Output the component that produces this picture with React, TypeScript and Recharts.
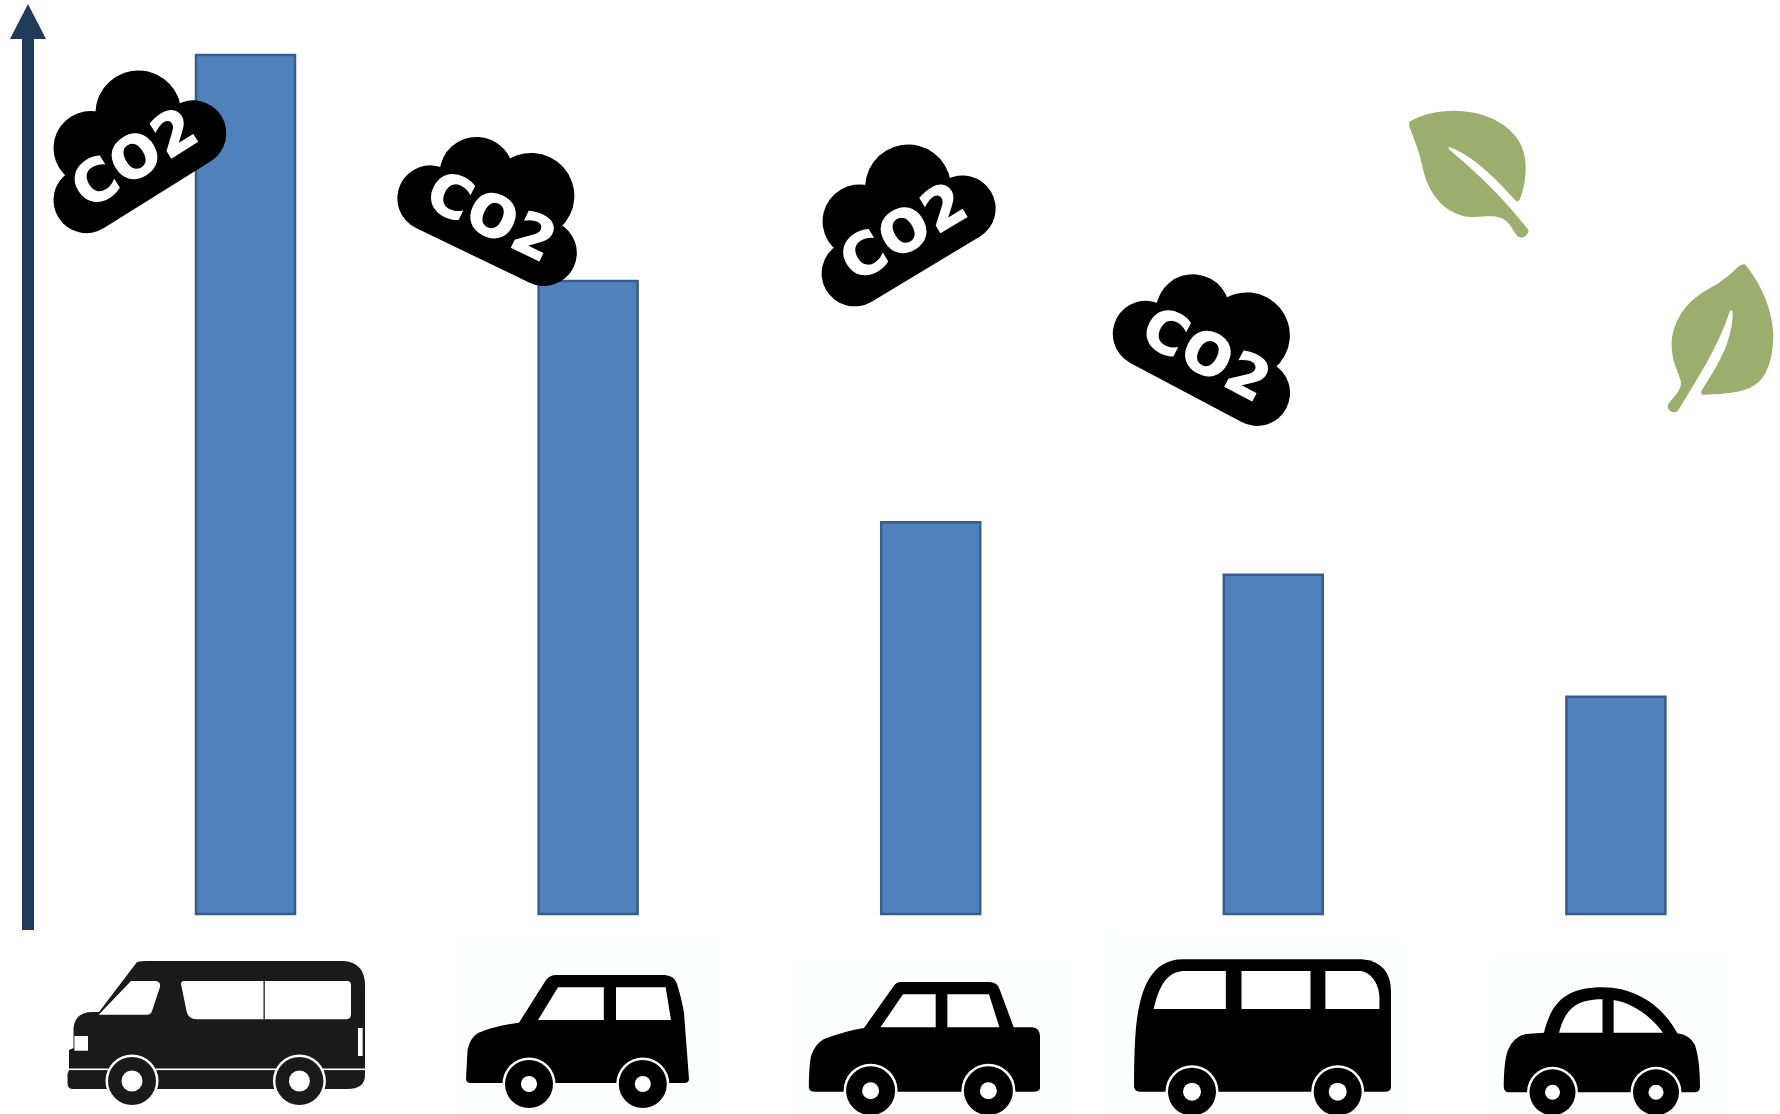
import React from "react";
import { BarChart, Bar, XAxis, YAxis } from "recharts";

const vehicles = ["van", "wagon", "sedan", "minibus", "compact"];
const co2Levels = [100, 73.7, 45.6, 39.5, 25.3];

const data = vehicles.map((vehicle, i) => ({ vehicle, co2: co2Levels[i] }));

const NAVY = "#203a5c";
const LEAF = "#9bae6e";

const Cloud = ({ x, y, angle }: { x: number; y: number; angle: number }) => (
  <g transform={`translate(${x} ${y}) rotate(${angle})`}>
    <circle cx={-31} cy={-24} r={37} fill="#000" />
    <circle cx={28} cy={-28} r={43} fill="#000" />
    <rect x={-95} y={-15} width={192} height={66} rx={33} fill="#000" />
    <text
      x={2}
      y={27}
      textAnchor="middle"
      fill="#fff"
      stroke="#fff"
      strokeWidth={1.5}
      fontFamily="'DejaVu Sans', sans-serif"
      fontWeight="bold"
      fontSize={57}
      letterSpacing={2}
    >
      CO2
    </text>
  </g>
);

const Wheel = ({ x, y, r, hub, fill = "#000" }: any) => (
  <g>
    <circle cx={x} cy={y} r={r + 2.5} fill="#fff" />
    <circle cx={x} cy={y} r={r} fill={fill} />
    <circle cx={x} cy={y} r={hub} fill="#fff" />
  </g>
);

const Van = () => (
  <g>
    <path
      d="M137 962 Q141 961 147 961 L344 961 Q365 963 365 985 L365 1075 Q365 1089 347 1089 L73 1089 Q67.5 1089 67.5 1083 L67.5 1074 L69 1070 L69 1050 L73.5 1048 L73.5 1028 Q75 1013 91 1012 L99 1012 Z"
      fill="#1a1a1a"
    />
    <rect x={67} y={1068.5} width={298} height={1.6} fill="#fff" />
    <path
      d="M98.7 1014.7 L131 981 L156 981 Q161 982 160 987 L152 1011 Q151 1014.7 147 1014.7 Z"
      fill="#fff"
    />
    <path
      d="M181 984 Q181 981 184 981 L347 981 Q351 981 351 985 L351 1014 Q351 1019.3 346 1019.3 L197 1019.3 Q188 1019 186.5 1011 Z"
      fill="#fff"
    />
    <rect x={263.5} y={981} width={1.3} height={38.5} fill="#1a1a1a" />
    <rect x={74.4} y={1036} width={13.6} height={14.7} fill="#fff" />
    <rect x={358} y={1028} width={4.7} height={28} fill="#fff" />
    <Wheel x={132} y={1081} r={24} hub={10.5} fill="#1a1a1a" />
    <Wheel x={299.4} y={1081} r={24} hub={10.5} fill="#1a1a1a" />
  </g>
);

const Wagon = () => (
  <g>
    <rect x={455} y={935} width={265} height={179} fill="#fdfefe" />
    <path
      d="M546 980 Q550 975 556 975 L665 975 Q675 976 677 984 Q682 1000 684 1013 L689 1079 Q689 1083 684 1083 L471 1083 Q466 1083 466 1079 L467.5 1050 Q470 1038 478 1033 Q495 1026 519 1022.7 Z"
      fill="#000"
    />
    <path d="M558 987.3 L603.8 987.3 L603.8 1020 L538 1020 Z" fill="#fff" />
    <path d="M616 987.3 L665.7 987.3 L671 1020 L616 1020 Z" fill="#fff" />
    <Wheel x={529} y={1084} r={24} hub={8} />
    <Wheel x={642.8} y={1084} r={24} hub={8} />
  </g>
);

const Sedan = () => (
  <g>
    <rect x={797} y={963} width={269} height={151} fill="#fdfefe" />
    <path
      d="M893 987 Q896 982 901 982 L990 982 Q998 983 999.5 989 L1013.7 1027.3 L1032 1027.3 Q1040 1028 1040 1036 L1040 1088 Q1040 1091.7 1033 1091.7 L815 1091.7 Q808.8 1091.7 808.8 1087 Q809 1065 811 1056 Q815 1044 824 1039 Q845 1031 864 1028 Z"
      fill="#000"
    />
    <path d="M903 994.3 L935.7 994.3 L935.7 1027.3 L880.4 1027.3 Z" fill="#fff" />
    <path d="M947.4 994.3 L989 994.3 L999.4 1027.3 L947.4 1027.3 Z" fill="#fff" />
    <Wheel x={870.6} y={1090.7} r={24.5} hub={8.5} />
    <Wheel x={988.4} y={1090.7} r={24.5} hub={8.5} />
  </g>
);

const Minibus = () => (
  <g>
    <rect x={1105} y={935} width={296} height={179} fill="#fdfefe" />
    <path
      d="M1183 959.3 L1361.8 959.3 Q1391 962 1391 992 L1391 1087 Q1391 1091.7 1385 1091.7 L1140 1091.7 Q1134 1091.7 1134 1086 Q1134 1050 1136 1027 C1139 1000 1146 959.3 1183 959.3 Z"
      fill="#000"
    />
    <path d="M1153.6 1009 L1225.8 1009 L1225.8 971 L1183 971 C1165 972 1158 990 1153.6 1009 Z" fill="#fff" />
    <rect x={1241.5} y={971} width={69} height={38} fill="#fff" />
    <path d="M1325.4 971 L1361 971 C1372 973 1379.4 985 1379.4 998 L1379.4 1009 L1325.4 1009 Z" fill="#fff" />
    <Wheel x={1192} y={1091.7} r={24} hub={9} />
    <Wheel x={1337.7} y={1091.7} r={24} hub={9} />
  </g>
);

const Compact = () => (
  <g>
    <rect x={1492} y={956} width={234} height={158} fill="#fdfefe" />
    <path
      d="M1503.7 1086 Q1504 1060 1508 1050 Q1514 1036 1526 1034 L1544 1032.7 C1552 1000 1568 987.3 1602.5 987.3 C1635 987.3 1662 1005 1677.4 1033.3 Q1690 1035 1695 1045 Q1700 1060 1700 1087 Q1700 1092.3 1694 1092.3 L1509 1092.3 Q1503.7 1092.3 1503.7 1086 Z"
      fill="#000"
    />
    <path d="M1559 1032.7 C1565 1010 1575 999.3 1602.5 999.3 L1602.5 1032.7 Z" fill="#fff" />
    <path d="M1613.6 1000 C1632 1003 1650 1015 1663 1032.7 L1613.6 1032.7 Z" fill="#fff" />
    <Wheel x={1552.5} y={1092.3} r={23} hub={7.5} />
    <Wheel x={1656} y={1092.3} r={23} hub={7.5} />
  </g>
);

const Leaves = () => (
  <g transform="translate(1380 90) scale(0.3333)" fill={LEAF}>
    <path d="M88 95 C130 70 200 58 250 64 C340 72 415 120 432 190 C445 250 430 300 420 328 Q413 340 403 328 C350 268 280 195 205 170 Q205 178 215 185 C300 255 380 335 445 420 Q448 432 430 442 Q416 445 410 435 C395 415 385 385 350 380 C320 376 290 385 250 378 C180 360 140 300 125 220 C118 185 100 140 88 110 Z" />
    <path d="M1095 523 C1130 565 1175 640 1180 730 C1180 800 1165 870 1110 893 C1070 912 1010 912 970 914 Q960 912 965 902 C1000 845 1060 760 1058 665 Q1055 655 1048 668 C1015 770 950 870 895 960 Q885 972 870 962 Q858 950 868 938 C885 915 905 900 903 875 C895 840 875 820 875 760 C878 690 920 635 980 600 C1020 580 1050 555 1070 535 Q1085 520 1095 523 Z" />
  </g>
);

export default function App() {
  return (
    <div
      style={{
        position: "absolute",
        top: 0,
        left: 0,
        width: 1780,
        height: 1114,
        overflow: "hidden",
        background: "#fff",
      }}
    >
      <BarChart
        width={1800}
        height={1114}
        data={data}
        margin={{ top: 55, right: 13, bottom: 200, left: 74 }}
      >
        <XAxis dataKey="vehicle" hide />
        <YAxis hide domain={[0, 100]} />
        <Bar
          dataKey="co2"
          barSize={99}
          fill="#4f81bd"
          stroke="#385d8a"
          strokeWidth={2.5}
          isAnimationActive={false}
        />
      </BarChart>
      {/* arrow, icons and clouds sit on top of the bars */}
      <svg
        width={1780}
        height={1114}
        style={{ position: "absolute", top: 0, left: 0 }}
      >
        <rect x={22} y={38} width={12} height={892} fill={NAVY} />
        <path d="M28 4 L46 39 L10 39 Z" fill={NAVY} />
        <Cloud x={129.5} y={152} angle={-32} />
        <Cloud x={494} y={209} angle={25.7} />
        <Cloud x={898.5} y={226} angle={-31} />
        <Cloud x={1209} y={347} angle={28} />
        <Leaves />
        <Van />
        <Wagon />
        <Sedan />
        <Minibus />
        <Compact />
      </svg>
    </div>
  );
}
